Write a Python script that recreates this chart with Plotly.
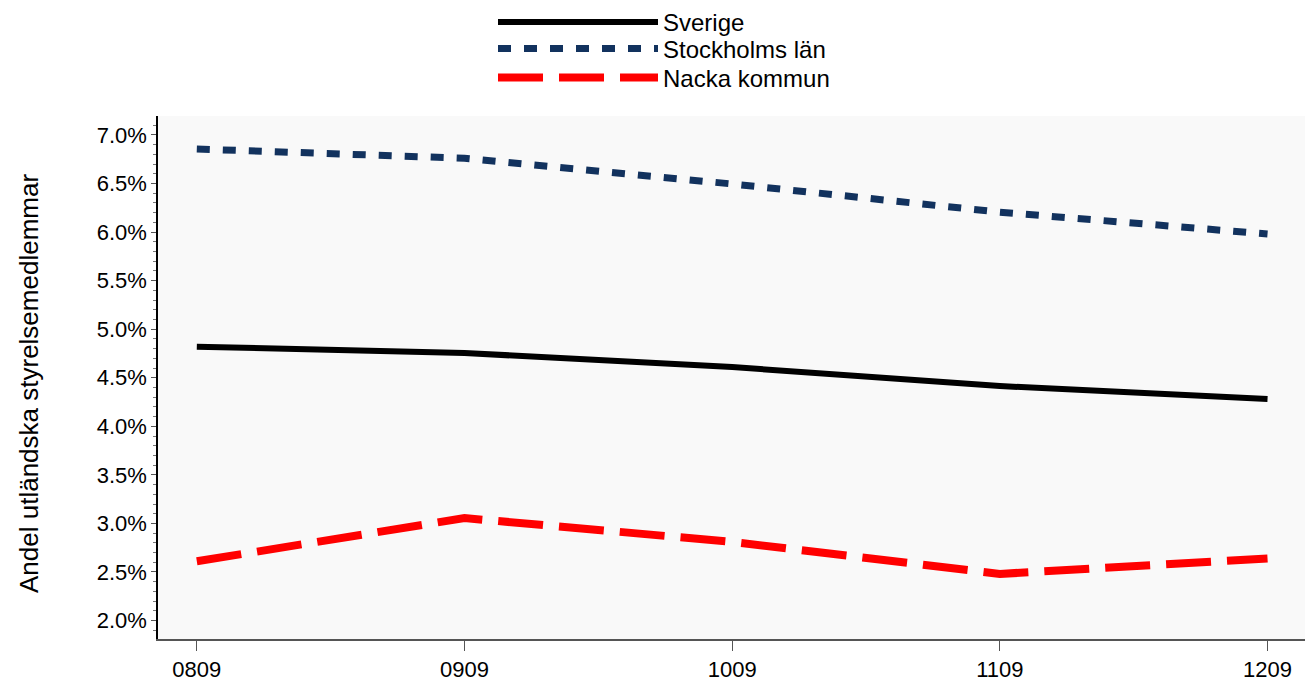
import plotly.graph_objects as go

periods = ["0809", "0909", "1009", "1109", "1209"]
sverige = [4.82, 4.755, 4.61, 4.415, 4.28]
stockholm = [6.855, 6.76, 6.495, 6.205, 5.98]
nacka = [2.61, 3.055, 2.81, 2.48, 2.64]
y_title = "Andel utländska styrelsemedlemmar"

FONT = "Liberation Sans, Arial, sans-serif"
W, H = 1305, 691
L, R, T, B = 158, 0, 116, 52
PW, PH = W - L - R, H - T - B

fig = go.Figure()
fig.add_trace(go.Scatter(x=periods, y=sverige, name="Sverige", mode="lines",
                         line=dict(color="black", width=6), legend="legend"))
fig.add_trace(go.Scatter(x=periods, y=stockholm, name="Stockholms län", mode="lines",
                         line=dict(color="#12325e", width=7, dash="13px,13px"),
                         legend="legend2"))
fig.add_trace(go.Scatter(x=periods, y=nacka, name="Nacka kommun", mode="lines",
                         line=dict(color="#ff0000", width=8, dash="45px,16px"),
                         legend="legend3"))


def leg(center_y, anchor="middle"):
    return dict(orientation="v", x=493 / W, xanchor="left", xref="container",
                y=1 - center_y / H, yanchor=anchor, yref="container",
                font=dict(size=24), itemwidth=160, bgcolor="rgba(0,0,0,0)")


fig.update_layout(
    width=W, height=H,
    showlegend=True,
    margin=dict(l=L, r=R, t=T, b=B, autoexpand=False),
    paper_bgcolor="white",
    plot_bgcolor="#f9f9f9",
    font=dict(family=FONT, size=22, color="black"),
    legend=leg(0, "top"), legend2=leg(49), legend3=leg(78),
    xaxis=dict(type="category", range=[-0.145, 4.14], showgrid=False,
               showline=True, linecolor="#555555", linewidth=2,
               ticks="outside", ticklen=10, tickcolor="#555555",
               tickfont=dict(size=22), zeroline=False),
    yaxis=dict(range=[1.81, 7.195], showgrid=False, zeroline=False,
               showline=True, linecolor="black", linewidth=1.5,
               tickvals=[2.0, 2.5, 3.0, 3.5, 4.0, 4.5, 5.0, 5.5, 6.0, 6.5, 7.0],
               ticktext=["2.0%", "2.5%", "3.0%", "3.5%", "4.0%", "4.5%", "5.0%",
                         "5.5%", "6.0%", "6.5%", "7.0%"],
               ticks="outside", ticklen=5, tickcolor="#555555",
               minor=dict(dtick=0.1, ticks="outside", ticklen=3, tickcolor="#777777"),
               tickfont=dict(size=22)),
    annotations=[dict(text=y_title, xref="paper", yref="paper",
                      x=(29 - L) / PW, y=(PH - (384 - T)) / PH,
                      xanchor="center", yanchor="middle", textangle=-90,
                      showarrow=False, font=dict(size=26))],
)

fig.write_html("out.html", config={"displayModeBar": False},
               post_script="document.body.style.margin='0';")
